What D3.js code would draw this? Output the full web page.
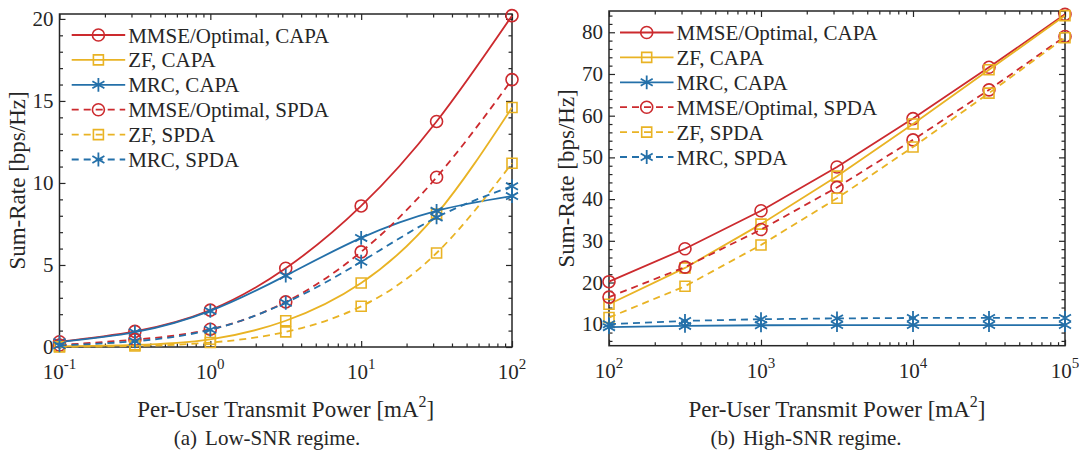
<!DOCTYPE html>
<html>
<head>
<meta charset="utf-8">
<script src="https://cdn.jsdelivr.net/npm/d3@7"></script>
<style>
  body { margin: 0; background: #fff; }
  svg text { font-family: 'Liberation Serif', 'DejaVu Serif', 'Times New Roman', Times, serif; fill: #262626; }
</style>
</head>
<body>
<svg id="chart" width="1079" height="456"></svg>
<script>
const seriesNames = ['MMSE/Optimal, CAPA', 'ZF, CAPA', 'MRC, CAPA', 'MMSE/Optimal, SPDA', 'ZF, SPDA', 'MRC, SPDA'];

// (a) low-SNR regime
const lowPower = [0.1, 0.3162, 1, 3.162, 10, 31.62, 100];
const lowMmseCapa = [0.32, 0.95, 2.25, 4.8, 8.6, 13.75, 20.2];
const lowZfCapa = [0.04, 0.13, 0.47, 1.6, 3.9, 8.1, 14.6];
const lowMrcCapa = [0.3, 0.9, 2.2, 4.35, 6.65, 8.3, 9.2];
const lowMmseSpda = [0.12, 0.45, 1.08, 2.75, 5.8, 10.35, 16.3];
const lowZfSpda = [0.01, 0.06, 0.27, 0.92, 2.48, 5.73, 11.2];
const lowMrcSpda = [0.1, 0.35, 1.05, 2.7, 5.2, 7.9, 9.8];

// (b) high-SNR regime
const highPower = [100, 316.2, 1000, 3162, 10000, 31623, 100000];
const highMmseCapa = [20.2, 28.1, 37.2, 47.7, 59.3, 71.6, 84.3];
const highZfCapa = [14.8, 23.5, 34.0, 45.5, 58.0, 71.0, 84.0];
const highMrcCapa = [9.3, 9.6, 9.75, 9.8, 9.8, 9.8, 9.8];
const highMmseSpda = [16.5, 23.7, 32.7, 42.8, 54.2, 66.2, 79.0];
const highZfSpda = [11.6, 19.1, 29.0, 40.2, 52.5, 65.4, 78.7];
const highMrcSpda = [10.0, 10.8, 11.2, 11.4, 11.5, 11.5, 11.5];

const yTicksLow = [0, 5, 10, 15, 20];
const yTicksHigh = [10, 20, 30, 40, 50, 60, 70, 80];

const RED = '#cc2a2e';
const YELLOW = '#e9b324';
const BLUE = '#2470a9';
const AXIS = '#262626';
const DASH = '7,5';

const styles = [
  { color: RED, marker: 'circle', dash: null },
  { color: YELLOW, marker: 'square', dash: null },
  { color: BLUE, marker: 'star', dash: null },
  { color: RED, marker: 'circle', dash: DASH },
  { color: YELLOW, marker: 'square', dash: DASH },
  { color: BLUE, marker: 'star', dash: DASH }
];

const svg = d3.select('#chart');

function drawMarker(sel, kind, color) {
  if (kind === 'circle') {
    return sel.append('circle').attr('r', 6)
      .attr('fill', 'none').attr('stroke', color).attr('stroke-width', 1.6);
  }
  const type = kind === 'square' ? d3.symbolSquare : d3.symbolAsterisk;
  const size = kind === 'square' ? 100 : 135;
  return sel.append('path').attr('d', d3.symbol(type, size)())
    .attr('fill', 'none').attr('stroke', color).attr('stroke-width', kind === 'star' ? 1.8 : 1.6);
}

function drawPanel(p) {
  const g = svg.append('g');
  const x = d3.scaleLog().domain(p.xDomain).range([p.left, p.right]);
  const y = d3.scaleLinear().domain(p.yDomain).range([p.bottom, p.top]);

  const xMajor = x.ticks().filter(v => Math.abs(Math.log10(v) - Math.round(Math.log10(v))) < 1e-9);
  const xMinor = x.ticks().filter(v => !xMajor.includes(v));

  // ticks pointing inward on all four sides
  const axes = [
    [d3.axisBottom(x), `translate(0,${p.bottom})`, xMajor, xMinor],
    [d3.axisTop(x), `translate(0,${p.top})`, xMajor, xMinor],
    [d3.axisLeft(y), `translate(${p.left},0)`, p.yTicks, p.yMinor],
    [d3.axisRight(y), `translate(${p.right},0)`, p.yTicks, p.yMinor]
  ];
  axes.forEach(([axis, tr, major, minor]) => {
    [[major, 6], [minor, 3.5]].forEach(([vals, len]) => {
      const a = g.append('g').attr('transform', tr)
        .call(axis.tickValues(vals).tickSizeInner(-len).tickSizeOuter(0).tickFormat(''));
      a.select('.domain').remove();
      a.selectAll('line').attr('stroke', AXIS).attr('stroke-width', 1.2);
    });
  });

  g.append('rect')
    .attr('x', p.left).attr('y', p.top)
    .attr('width', p.right - p.left).attr('height', p.bottom - p.top)
    .attr('fill', 'none').attr('stroke', AXIS).attr('stroke-width', 1.5);

  // tick labels
  g.selectAll('.ylab').data(p.yTicks).enter().append('text')
    .attr('x', p.left - 6).attr('y', d => y(d) + 7)
    .attr('text-anchor', 'end').attr('font-size', 21)
    .text(d => d);

  const xl = g.selectAll('.xlab').data(xMajor).enter().append('text')
    .attr('x', d => x(d)).attr('y', p.bottom + 32)
    .attr('text-anchor', 'middle').attr('font-size', 21);
  xl.append('tspan').text('10');
  xl.append('tspan').attr('dy', -10).attr('font-size', 15)
    .text(d => String(Math.round(Math.log10(d))));

  // axis labels and caption
  const xLabel = g.append('text')
    .attr('x', (p.left + p.right) / 2).attr('y', 417)
    .attr('text-anchor', 'middle').attr('font-size', 23);
  xLabel.append('tspan').text('Per-User Transmit Power [mA');
  xLabel.append('tspan').attr('dy', -10).attr('font-size', 16).text('2');
  xLabel.append('tspan').attr('dy', 10).text(']');

  g.append('text')
    .attr('transform', `translate(${p.yLabelX},${(p.top + p.bottom) / 2}) rotate(-90)`)
    .attr('text-anchor', 'middle').attr('font-size', 23)
    .text('Sum-Rate [bps/Hz]');

  const cap = g.append('text')
    .attr('x', p.captionX).attr('y', 445)
    .attr('text-anchor', 'middle').attr('font-size', 21);
  cap.append('tspan').text(p.captionTag);
  cap.append('tspan').attr('dx', 8).text(p.caption);

  // series
  const line = d3.line().x(d => x(d[0])).y(d => y(d[1])).curve(p.curve);
  p.series.forEach((vals, i) => {
    const st = styles[i];
    const pts = p.xs.map((v, k) => [v, vals[k]]);
    g.append('path').datum(pts).attr('d', line)
      .attr('fill', 'none').attr('stroke', st.color).attr('stroke-width', 1.8)
      .attr('stroke-dasharray', st.dash);
    pts.forEach(pt => {
      const m = g.append('g').attr('transform', `translate(${x(pt[0])},${y(pt[1])})`);
      drawMarker(m, st.marker, st.color);
    });
  });

  // legend, no box
  seriesNames.forEach((name, i) => {
    const st = styles[i];
    const ly = p.legendY + i * 24.9;
    const lg = g.append('g');
    lg.append('line')
      .attr('x1', p.legendX).attr('x2', p.legendX + 53.5)
      .attr('y1', ly).attr('y2', ly)
      .attr('stroke', st.color).attr('stroke-width', 1.8)
      .attr('stroke-dasharray', st.dash);
    drawMarker(lg.append('g').attr('transform', `translate(${p.legendX + 26.7},${ly})`), st.marker, st.color);
    lg.append('text')
      .attr('x', p.legendX + 56.5).attr('y', ly + 7.5)
      .attr('font-size', 21).text(name);
  });
}

drawPanel({
  left: 59.5, right: 512, top: 14, bottom: 347,
  xDomain: [0.1, 100], yDomain: [0, 20.3],
  yTicks: yTicksLow, yMinor: d3.range(1, 21).filter(v => v % 5 !== 0),
  xs: lowPower,
  series: [lowMmseCapa, lowZfCapa, lowMrcCapa, lowMmseSpda, lowZfSpda, lowMrcSpda],
  curve: d3.curveNatural,
  legendX: 71.7, legendY: 35,
  yLabelX: 25, captionX: 267, captionTag: '(a)', caption: 'Low-SNR regime.'
});

drawPanel({
  left: 609, right: 1065, top: 11, bottom: 345.7,
  xDomain: [100, 100000], yDomain: [4.85, 85.1],
  yTicks: yTicksHigh, yMinor: d3.range(6, 85, 2).filter(v => v % 10 !== 0),
  xs: highPower,
  series: [highMmseCapa, highZfCapa, highMrcCapa, highMmseSpda, highZfSpda, highMrcSpda],
  curve: d3.curveLinear,
  legendX: 620, legendY: 32.5,
  yLabelX: 574, captionX: 806, captionTag: '(b)', caption: 'High-SNR regime.'
});
</script>
</body>
</html>
